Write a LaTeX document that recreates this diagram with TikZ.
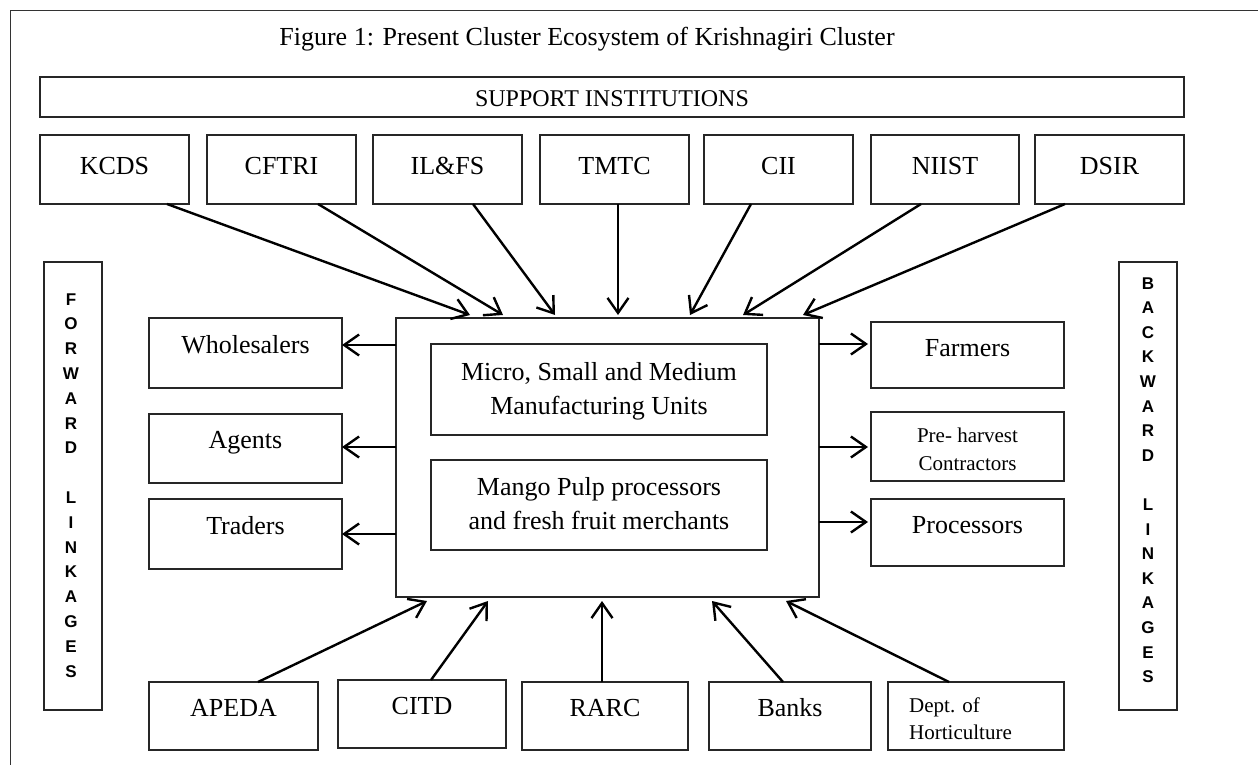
\documentclass[tikz,border=0pt]{standalone}
\usepackage{fontspec}
\setmainfont{Liberation Serif}
\newfontfamily\lsans{Liberation Sans}
\usetikzlibrary{arrows.meta}
\begin{document}
\begin{tikzpicture}[x=1pt,y=-1pt,
  box/.style={draw=black!85, line width=1.4pt, inner sep=0pt, outer sep=0pt, anchor=north west},
  lbl/.style={font=\fontsize{26}{31}\selectfont, inner sep=0pt, anchor=base},
  sml/.style={font=\fontsize{21}{28}\selectfont, inner sep=0pt, anchor=base},
  vl/.style={font=\lsans\bfseries\fontsize{17}{20}\selectfont, inner sep=0pt, anchor=base},
  arr/.style={line width=2.4pt, -{Straight Barb[length=15pt,width=21pt]}}]
\useasboundingbox (0,0) rectangle (1258,765);
\fill[white] (0,0) rectangle (1258,765);
% outer frame (cut off at right and bottom)
\draw[line width=1.4pt, black!80] (10.5,765) -- (10.5,10.5) -- (1258,10.5);

% title
\node[lbl] (title) at (587,46) {Figure 1: Present Cluster Ecosystem of Krishnagiri Cluster};

% support institutions
\node[box, minimum width=1144pt, minimum height=40pt] (support) at (40,77) {};
\node[lbl, font=\fontsize{24}{28}\selectfont] (supportT) at (612,107) {SUPPORT INSTITUTIONS};

% top row
\foreach \nm/\xx/\bwid/\tx in {kcds/40/149/KCDS, cftri/207/149/CFTRI, ilfs/373/149/IL\&FS, tmtc/540/149/TMTC, cii/704/149/CII, niist/871/148/NIIST, dsir/1035/149/DSIR}{
  \node[box, minimum width=\bwid pt, minimum height=69pt] (\nm) at (\xx,135) {};
  \node[lbl] (\nm T) at ({\xx+\bwid/2},174) {\tx};
}

% forward / backward linkages
\node[box, minimum width=58pt, minimum height=448pt] (fwd) at (44,262) {};
\node[box, minimum width=58pt, minimum height=448pt] (bwd) at (1119,262) {};
\foreach \ch/\k in {F/0,O/1,R/2,W/3,A/4,R/5,D/6,L/8,I/9,N/10,K/11,A/12,G/13,E/14,S/15}{
  \node[vl] (fw\k) at (71,{305+24.8*\k}) {\ch};
}
\foreach \ch/\k in {B/0,A/1,C/2,K/3,W/4,A/5,R/6,D/7,L/9,I/10,N/11,K/12,A/13,G/14,E/15,S/16}{
  \node[vl] (bw\k) at (1148,{289+24.6*\k}) {\ch};
}

% left boxes
\node[box, minimum width=193pt, minimum height=70pt] (whole) at (149,318) {};
\node[lbl] (wholeT) at (245.5,353) {Wholesalers};
\node[box, minimum width=193pt, minimum height=69pt] (agents) at (149,414) {};
\node[lbl] (agentsT) at (245.5,448) {Agents};
\node[box, minimum width=193pt, minimum height=70pt] (traders) at (149,499) {};
\node[lbl] (tradersT) at (245.5,534) {Traders};

% central box
\node[box, minimum width=423pt, minimum height=279pt] (core) at (396,318) {};
\node[box, minimum width=336pt, minimum height=91pt] (msme) at (431,344) {};
\node[lbl] (msmeT1) at (599,380) {Micro, Small and Medium};
\node[lbl] (msmeT2) at (599,414) {Manufacturing Units};
\node[box, minimum width=336pt, minimum height=90pt] (mango) at (431,460) {};
\node[lbl] (mangoT1) at (599,495) {Mango Pulp processors};
\node[lbl] (mangoT2) at (599,529) {and fresh fruit merchants};

% right boxes
\node[box, minimum width=193pt, minimum height=66pt] (farm) at (871,322) {};
\node[lbl] (farmT) at (967.5,356) {Farmers};
\node[box, minimum width=193pt, minimum height=69pt] (pre) at (871,412) {};
\node[sml] (preT1) at (967.5,442) {Pre- harvest};
\node[sml] (preT2) at (967.5,470) {Contractors};
\node[box, minimum width=193pt, minimum height=67pt] (proc) at (871,499) {};
\node[lbl] (procT) at (967.5,533) {Processors};

% bottom row
\node[box, minimum width=169pt, minimum height=68pt] (apeda) at (149,682) {};
\node[lbl] (apedaT) at (233.5,716) {APEDA};
\node[box, minimum width=168pt, minimum height=68pt] (citd) at (338,680) {};
\node[lbl] (citdT) at (422,714) {CITD};
\node[box, minimum width=166pt, minimum height=68pt] (rarc) at (522,682) {};
\node[lbl] (rarcT) at (605,716) {RARC};
\node[box, minimum width=162pt, minimum height=68pt] (banks) at (709,682) {};
\node[lbl] (banksT) at (790,716) {Banks};
\node[box, minimum width=176pt, minimum height=68pt] (dept) at (888,682) {};
\node[sml, anchor=base west] (deptT1) at (909,712) {Dept. of};
\node[sml, anchor=base west] (deptT2) at (909,739) {Horticulture};

% arrows from support institutions
\draw[arr] ([xshift=127pt]kcds.south west) -- ([xshift=74pt,yshift=3pt]core.north west);
\draw[arr] ([xshift=111pt]cftri.south west) -- ([xshift=107pt,yshift=3pt]core.north west);
\draw[arr] ([xshift=100pt]ilfs.south west) -- ([xshift=159pt,yshift=3pt]core.north west);
\draw[arr] ([xshift=78pt]tmtc.south west) -- ([xshift=222pt,yshift=3pt]core.north west);
\draw[arr] ([xshift=47pt]cii.south west) -- ([xshift=294pt,yshift=3pt]core.north west);
\draw[arr] ([xshift=50pt]niist.south west) -- ([xshift=347pt,yshift=3pt]core.north west);
\draw[arr] ([xshift=30pt]dsir.south west) -- ([xshift=407pt,yshift=3pt]core.north west);

% forward linkages
\draw[arr] ([yshift=-27pt]core.north west) -- ([yshift=-27pt]whole.north east);
\draw[arr] ([yshift=-129pt]core.north west) -- ([yshift=-33pt]agents.north east);
\draw[arr] ([yshift=-216pt]core.north west) -- ([yshift=-35pt]traders.north east);

% backward linkages
\draw[arr] ([yshift=-26pt]core.north east) -- ([xshift=-3pt,yshift=-22pt]farm.north west);
\draw[arr] ([yshift=-129pt]core.north east) -- ([xshift=-3pt,yshift=-35pt]pre.north west);
\draw[arr] ([yshift=-204pt]core.north east) -- ([xshift=-3pt,yshift=-23pt]proc.north west);

% bottom arrows
\draw[arr] ([xshift=109pt]apeda.north west) -- ([xshift=31pt,yshift=-4pt]core.south west);
\draw[arr] ([xshift=93pt]citd.north west) -- ([xshift=92pt,yshift=-4pt]core.south west);
\draw[arr] ([xshift=80pt]rarc.north west) -- ([xshift=206pt,yshift=-4pt]core.south west);
\draw[arr] ([xshift=74pt]banks.north west) -- ([xshift=316pt,yshift=-4pt]core.south west);
\draw[arr] ([xshift=61pt]dept.north west) -- ([xshift=390pt,yshift=-4pt]core.south west);
\end{tikzpicture}
\end{document}
